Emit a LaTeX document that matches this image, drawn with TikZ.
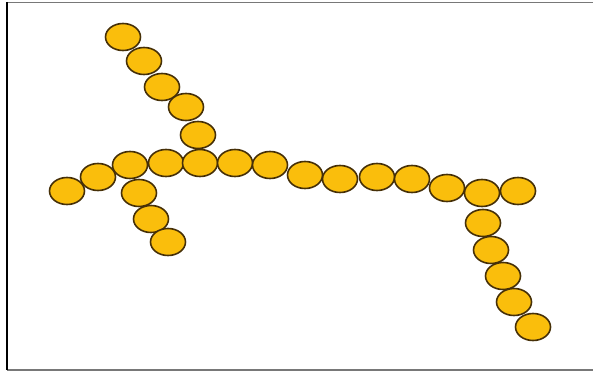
\documentclass[tikz,border=0pt]{standalone}
\usepackage{xcolor}
\usetikzlibrary{shapes.geometric}
\definecolor{bead}{RGB}{250, 190, 12}
\definecolor{beadline}{RGB}{70, 48, 8}
\definecolor{framegray}{RGB}{120, 120, 120}

\begin{document}
\begin{tikzpicture}[
    x=1pt, y=-1pt,
    beadbox/.style={
        ellipse,
        draw=beadline,
        fill=bead,
        line width=1.6pt,
        minimum width=35pt,
        minimum height=27pt,
        inner sep=0pt
    },
    framebox/.style={line width=1.2pt}
]
\useasboundingbox (0,0) rectangle (593,374);

% === Frame ===
\draw[framebox, framegray] (7,2.5) -- (593,2.5);
\draw[framebox, framegray] (7,370) -- (593,370);
\draw[framebox, black] (7,2) -- (7,370);

% === Upper branch ===
\foreach \name/\px/\py in {u1/123/37, u2/144/61, u3/162/87, u4/186/107, u5/198/135}
    \node[beadbox] (\name) at (\px,\py) {};

% === Lower left branch ===
\foreach \name/\px/\py in {l1/139/193, l2/151/219, l3/168/242}
    \node[beadbox] (\name) at (\px,\py) {};

% === Main chain ===
\foreach \name/\px/\py in {m1/67/191, m2/98/177, m3/130/165, m4/166/163, m5/200/163,
    m6/235/163, m7/270/165, m8/305/175, m9/340/179, m10/377/177, m11/412/179,
    m12/447/188, m13/482/193, m14/518/191}
    \node[beadbox] (\name) at (\px,\py) {};

% === Right branch ===
\foreach \name/\px/\py in {r1/483/223, r2/491/250, r3/503/276, r4/514/302, r5/533/327}
    \node[beadbox] (\name) at (\px,\py) {};

\end{tikzpicture}
\end{document}
